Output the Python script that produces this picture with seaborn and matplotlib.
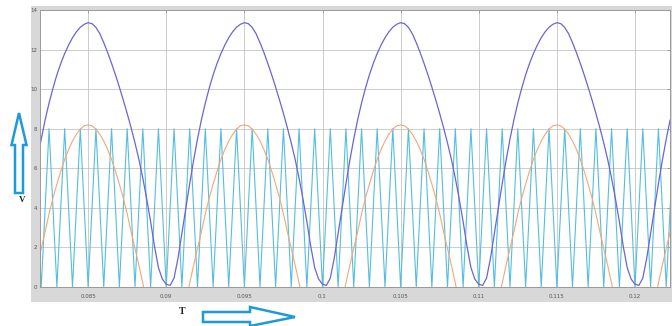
import numpy as np
import pandas as pd
import matplotlib
matplotlib.use("Agg")
import matplotlib.pyplot as plt
import seaborn as sns
from matplotlib.patches import Rectangle, Polygon

# ---------------- data ----------------
# sample times of the two smooth curves: 0.0815 s ... 0.12225 s, every 0.25 ms
t_curve = np.linspace(0.0815, 0.12225, 164)
# vertex times of the triangular carrier: 0.0815 s ... 0.1225 s, every 0.5 ms
t_tri = np.linspace(0.0815, 0.1225, 83)

blue_v = [
    # 0.08150 .. 0.08475
    5.22, 6.4, 7.48, 8.45, 9.3, 10.05, 10.72, 11.3, 11.8, 12.23, 12.6, 12.9, 13.13, 13.28,
    # 0.085 .. 0.09475
    13.36, 13.31, 13.12, 12.8, 12.35, 11.85, 11.3, 10.72, 10.1, 9.45,
    8.77, 8.05, 7.28, 6.45, 5.5, 4.45, 3.3, 2.05, 0.98, 0.4,
    0.14, 0.08, 0.45, 1.45, 2.7, 3.97, 5.22, 6.4, 7.48, 8.45,
    9.3, 10.05, 10.72, 11.3, 11.8, 12.23, 12.6, 12.9, 13.13, 13.28,
    # 0.095 .. 0.10475
    13.36, 13.31, 13.12, 12.8, 12.35, 11.85, 11.3, 10.72, 10.1, 9.45,
    8.77, 8.05, 7.28, 6.45, 5.5, 4.45, 3.3, 2.05, 0.98, 0.4,
    0.14, 0.08, 0.45, 1.45, 2.7, 3.97, 5.22, 6.4, 7.48, 8.45,
    9.3, 10.05, 10.72, 11.3, 11.8, 12.23, 12.6, 12.9, 13.13, 13.28,
    # 0.105 .. 0.11475
    13.36, 13.31, 13.12, 12.8, 12.35, 11.85, 11.3, 10.72, 10.1, 9.45,
    8.77, 8.05, 7.28, 6.45, 5.5, 4.45, 3.3, 2.05, 0.98, 0.4,
    0.14, 0.08, 0.45, 1.45, 2.7, 3.97, 5.22, 6.4, 7.48, 8.45,
    9.3, 10.05, 10.72, 11.3, 11.8, 12.23, 12.6, 12.9, 13.13, 13.28,
    # 0.115 .. 0.12225
    13.36, 13.31, 13.12, 12.8, 12.35, 11.85, 11.3, 10.72, 10.1, 9.45,
    8.77, 8.05, 7.28, 6.45, 5.5, 4.45, 3.3, 2.05, 0.98, 0.4,
    0.14, 0.08, 0.45, 1.45, 2.7, 3.97, 5.22, 6.4, 7.48, 8.45,
]

orange_v = [
    # 0.08150 .. 0.08475
    0.2, 1.1, 1.95, 2.8, 3.7, 4.5, 5.2, 5.85, 6.45, 6.95, 7.38, 7.72, 7.98, 8.15,
    # 0.085 .. 0.09475
    8.19, 8.15, 7.98, 7.72, 7.38, 6.95, 6.45, 5.85, 5.2, 4.5,
    3.7, 2.8, 1.95, 1.1, 0.2, -0.8, -1.8, -2.6, -3.2, -3.6,
    -3.7, -3.6, -3.2, -2.6, -1.8, -0.8, 0.2, 1.1, 1.95, 2.8,
    3.7, 4.5, 5.2, 5.85, 6.45, 6.95, 7.38, 7.72, 7.98, 8.15,
    # 0.095 .. 0.10475
    8.19, 8.15, 7.98, 7.72, 7.38, 6.95, 6.45, 5.85, 5.2, 4.5,
    3.7, 2.8, 1.95, 1.1, 0.2, -0.8, -1.8, -2.6, -3.2, -3.6,
    -3.7, -3.6, -3.2, -2.6, -1.8, -0.8, 0.2, 1.1, 1.95, 2.8,
    3.7, 4.5, 5.2, 5.85, 6.45, 6.95, 7.38, 7.72, 7.98, 8.15,
    # 0.105 .. 0.11475
    8.19, 8.15, 7.98, 7.72, 7.38, 6.95, 6.45, 5.85, 5.2, 4.5,
    3.7, 2.8, 1.95, 1.1, 0.2, -0.8, -1.8, -2.6, -3.2, -3.6,
    -3.7, -3.6, -3.2, -2.6, -1.8, -0.8, 0.2, 1.1, 1.95, 2.8,
    3.7, 4.5, 5.2, 5.85, 6.45, 6.95, 7.38, 7.72, 7.98, 8.15,
    # 0.115 .. 0.12225
    8.19, 8.15, 7.98, 7.72, 7.38, 6.95, 6.45, 5.85, 5.2, 4.5,
    3.7, 2.8, 1.95, 1.1, 0.2, -0.8, -1.8, -2.6, -3.2, -3.6,
    -3.7, -3.6, -3.2, -2.6, -1.8, -0.8, 0.2, 1.1, 1.95, 2.8,
]

tri_v = [
    8, 0, 8, 0, 8, 0, 8, 0, 8, 0, 8, 0, 8, 0, 8, 0, 8, 0, 8, 0,
    8, 0, 8, 0, 8, 0, 8, 0, 8, 0, 8, 0, 8, 0, 8, 0, 8, 0, 8, 0,
    8, 0, 8, 0, 8, 0, 8, 0, 8, 0, 8, 0, 8, 0, 8, 0, 8, 0, 8, 0,
    8, 0, 8, 0, 8, 0, 8, 0, 8, 0, 8, 0, 8, 0, 8, 0, 8, 0, 8, 0,
    8, 0, 8,
]

x_ticks = [0.085, 0.09, 0.095, 0.1, 0.105, 0.11, 0.115, 0.12]
x_tick_labels = ["0.085", "0.09", "0.095", "0.1", "0.105", "0.11", "0.115", "0.12"]
y_ticks = [0, 2, 4, 6, 8, 10, 12, 14]
y_tick_labels = ["0", "2", "4", "6", "8", "10", "12", "14"]

df_curve = pd.DataFrame({"t": t_curve, "blue": blue_v, "orange": orange_v})
df_tri = pd.DataFrame({"t": t_tri, "tri": tri_v})

# ---------------- figure ----------------
sns.set_theme(style="white")
plt.rcParams["font.family"] = ["DejaVu Sans"]

W, H = 672, 326
fig = plt.figure(figsize=(W / 100, H / 100), dpi=100, facecolor="white")

# MATLAB-like grey panel behind the axes
fig.patches.append(Rectangle((31 / W, 1 - 302 / H), (W - 31) / W, (302 - 6) / H,
                             transform=fig.transFigure, facecolor="#d8d8d8",
                             edgecolor="none", zorder=-5))

ax = fig.add_axes([40 / W, 1 - 287 / H, 630 / W, 277 / H])
ax.set_facecolor("white")

sns.lineplot(data=df_tri, x="t", y="tri", ax=ax, color="#55bedd", lw=0.8,
             estimator=None, sort=False)
sns.lineplot(data=df_curve, x="t", y="orange", ax=ax, color="#f2a878", lw=0.8,
             estimator=None, sort=False)
sns.lineplot(data=df_curve, x="t", y="blue", ax=ax, color="#6c64d4", lw=0.9,
             estimator=None, sort=False)

ax.set_xlim(0.08192, 0.12224)
ax.set_ylim(0, 14)
ax.set_xticks(x_ticks)
ax.set_xticklabels(x_tick_labels)
ax.set_yticks(y_ticks)
ax.set_yticklabels(y_tick_labels)
ax.set_xlabel("")
ax.set_ylabel("")
ax.grid(True, color="#c4c4c4", lw=0.6)
ax.set_axisbelow(True)
ax.tick_params(axis="both", direction="in", length=2, width=0.5, colors="#8a8a8a",
               labelsize=4, labelcolor="#555555", top=True, right=True)
ax.tick_params(axis="x", pad=5)
ax.tick_params(axis="y", pad=2)
for s in ax.spines.values():
    s.set_color("#9a9a9a")
    s.set_linewidth(0.7)

# axis labels and arrows drawn as in the picture
fig.text(182 / W, 1 - 311 / H, "T", family="Liberation Serif", weight="bold",
         fontsize=7, color="#222222", ha="center", va="center")
fig.text(22 / W, 1 - 200 / H, "V", family="Liberation Serif", weight="bold",
         fontsize=6.5, color="#222222", ha="center", va="center")


def px(pts):
    return [(x / W, 1 - y / H) for x, y in pts]


arrow_right = px([(203, 312), (250, 312), (250, 307), (295, 317), (250, 326),
                  (250, 322), (203, 322)])
arrow_up = px([(15, 193), (15, 145), (11.5, 145), (19, 113), (26.5, 145),
               (23, 145), (23, 193)])
for poly in (arrow_right, arrow_up):
    fig.patches.append(Polygon(poly, closed=True, transform=fig.transFigure,
                               facecolor="white", edgecolor="#1e9ad6", lw=1.8,
                               joinstyle="miter", zorder=5))

fig.savefig("out.png", dpi=100, facecolor="white")
